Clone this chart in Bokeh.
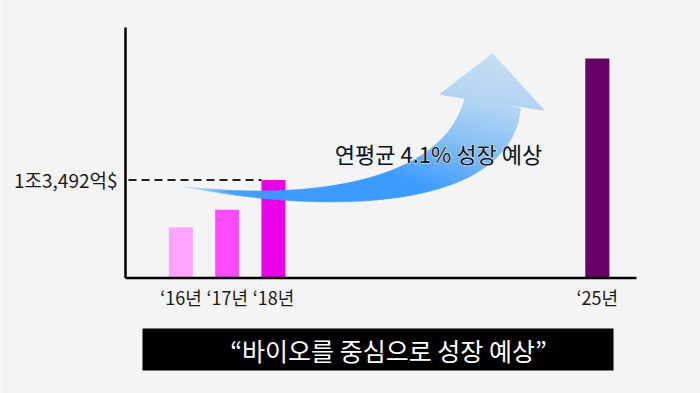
import numpy as np
from bokeh.plotting import figure
from bokeh.models import Range1d, ColumnDataSource, Text
from bokeh.core.properties import value
from bokeh.embed import file_html
from bokeh.resources import INLINE

# ---------------- data ----------------
years = [2016, 2017, 2018, 2025]
tick_labels = ["\u201816년", "\u201817년", "\u201818년", "\u201825년"]
values = [7000, 9400, 13492, 30200]          # 억$
bar_colors = ["#ffa5ff", "#ff4aff", "#e800e8", "#660066"]
ref_label = "1조3,492억$"
growth_text = "연평균 4.1% 성장 예상"
banner_text = "\u201c바이오를 중심으로 성장 예상\u201d"

FONT = "Noto Sans CJK KR"
W, H = 700, 393
X0, X1 = 2012.10, 2027.23
Y0, Y1 = -15900.0, 38200.0

def dx(px):  # page pixel -> data x (decoration only)
    return X0 + px * (X1 - X0) / W

def dy(py):  # page pixel -> data y (decoration only)
    return Y1 - py * (Y1 - Y0) / H

p = figure(width=W, height=H, output_backend="svg", toolbar_location=None,
           x_range=Range1d(X0, X1), y_range=Range1d(Y0, Y1),
           x_axis_location=None, y_axis_location=None, min_border=0)
p.grid.visible = False
p.outline_line_color = None
p.background_fill_color = "#f4f4f4"
p.border_fill_color = "#f4f4f4"

# bars
src = ColumnDataSource(dict(x=years, top=values, color=bar_colors, label=tick_labels))
p.vbar(x="x", top="top", bottom=0, width=0.52, fill_color="color", line_color=None, source=src)

# dashed reference line to the 2018 bar
p.segment(x0=[dx(128)], y0=[values[2]], x1=[years[2] - 0.26], y1=[values[2]],
          line_color="#222222", line_width=2, line_dash="8 5")

# axis lines
p.segment(x0=[dx(125), dx(125)], y0=[0, 0], x1=[dx(125), dx(636)], y1=[dy(27), 0],
          line_color="black", line_width=2.5)

# tick labels
p.text(x="x", y=dy(296), text="label", source=src, text_font=value(FONT),
       text_font_size="18px", text_align="center", text_baseline="middle",
       text_color="#1a1a1a")

# reference value label
p.text(x=[dx(117)], y=[values[2]], text=[ref_label], text_font=value(FONT),
       text_font_size="19px", text_align="right", text_baseline="middle",
       text_color="#1a1a1a")

# ---------------- curved gradient arrow (decoration) ----------------
def bez(P, t):
    P = np.array(P, dtype=float)
    t = t[:, None]
    return ((1 - t) ** 3) * P[0] + 3 * ((1 - t) ** 2) * t * P[1] + 3 * (1 - t) * t ** 2 * P[2] + t ** 3 * P[3]

upper = [(183, 186), (300, 200), (445, 185), (465, 95)]
lower = [(183, 186), (330, 215), (510, 210), (520, 108)]
N = 60
ts = np.linspace(0, 1, N + 1)
U = bez(upper, ts)
L = bez(lower, ts)

stops = [(0.0, (214, 234, 255)), (0.12, (70, 160, 255)), (0.22, (58, 154, 255)),
         (0.58, (58, 154, 255)), (0.85, (140, 195, 245)), (1.0, (180, 214, 244))]

def col(t):
    for (t0, c0), (t1, c1) in zip(stops[:-1], stops[1:]):
        if t0 <= t <= t1:
            f = (t - t0) / (t1 - t0) if t1 > t0 else 0
            c = [int(round(a + (b - a) * f)) for a, b in zip(c0, c1)]
            return "#%02x%02x%02x" % tuple(c)
    return "#%02x%02x%02x" % stops[-1][1]

xs, ys, cs = [], [], []
for i in range(N):
    pts = [U[i], U[i + 1], L[i + 1], L[i]]
    xs.append([dx(q[0]) for q in pts])
    ys.append([dy(q[1]) for q in pts])
    cs.append(col((ts[i] + ts[i + 1]) / 2))
p.patches(xs=xs, ys=ys, fill_color=cs, line_color=cs, line_width=0.6)

# arrow head (slices for a soft gradient)
tip = np.array([492, 53.0]); bl = np.array([439, 94.0]); br = np.array([544, 110.0])
M = 12
hxs, hys, hcs = [], [], []
for j in range(M):
    a0, a1 = j / M, (j + 1) / M
    pl0 = bl + (tip - bl) * a0; pl1 = bl + (tip - bl) * a1
    pr0 = br + (tip - br) * a0; pr1 = br + (tip - br) * a1
    pts = [pl0, pl1, pr1, pr0]
    hxs.append([dx(q[0]) for q in pts])
    hys.append([dy(q[1]) for q in pts])
    c0 = np.array([178, 212, 244]); c1 = np.array([200, 223, 243])
    c = (c0 + (c1 - c0) * (a0 + a1) / 2).astype(int)
    hcs.append("#%02x%02x%02x" % tuple(c))
p.patches(xs=hxs, ys=hys, fill_color=hcs, line_color=hcs, line_width=0.6)

# growth text with halo
gkw = dict(text_font=value(FONT), text_font_size="22px", text_align="center",
           text_baseline="middle")
if "text_outline_color" in Text.properties():
    p.text(x=[dx(438)], y=[dy(152)], text=[growth_text], text_color="#e4eeff",
           text_outline_color="#e4eeff", **gkw)
p.text(x=[dx(438)], y=[dy(152)], text=[growth_text], text_color="#111111", **gkw)

# banner
p.quad(left=[dx(142)], right=[dx(613)], top=[dy(328)], bottom=[dy(370)],
       fill_color="black", line_color=None)
p.text(x=[dx(388)], y=[dy(349)], text=[banner_text], text_font=value(FONT),
       text_font_size="25px", text_align="center", text_baseline="middle",
       text_color="white")

open("out.html", "w").write(file_html(p, INLINE))
